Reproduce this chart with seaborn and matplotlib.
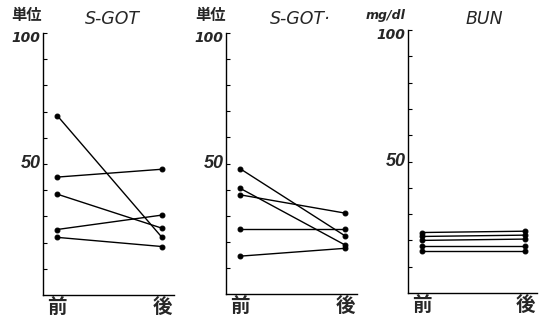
import pandas as pd
import seaborn as sns
import matplotlib.pyplot as plt

# values (before / after)
got1_pre = [68.5, 45, 38.5, 25, 22]
got1_post = [22, 48, 25.5, 30.5, 18.5]
got2_pre = [48, 40.5, 38, 25, 14.5]
got2_post = [22.3, 18.8, 31, 25, 17.5]
bun_pre = [23, 21.5, 20, 18, 16]
bun_post = [23.5, 22, 20.5, 18, 16]

x_labels = ['前', '後']
titles = ['S-GOT', 'S-GOT·', 'BUN']
units = ['単位', '単位', 'mg/dl']

sns.set_style('white')
plt.rcParams['font.family'] = ['DejaVu Sans', 'Noto Sans CJK JP']

W, H = 540, 321
fig = plt.figure(figsize=(W / 100, H / 100), dpi=100)


def long_df(pre, post):
    rows = []
    for i, (a, b) in enumerate(zip(pre, post)):
        rows.append({'subject': i, 'time': 0, 'value': a})
        rows.append({'subject': i, 'time': 1, 'value': b})
    return pd.DataFrame(rows)


# axes boxes in pixels: left, top, right, bottom
boxes = [(43, 33, 174, 295), (226, 33, 357, 294), (408, 30, 537, 293)]
data = [(got1_pre, got1_post), (got2_pre, got2_post), (bun_pre, bun_post)]
title_x = [112, 300, 484]

for k, ((l, t, r, b), (pre, post)) in enumerate(zip(boxes, data)):
    ax = fig.add_axes([l / W, 1 - b / H, (r - l) / W, (b - t) / H])
    df = long_df(pre, post)
    sns.lineplot(data=df, x='time', y='value', units='subject', estimator=None,
                 color='black', linewidth=1.0, marker='o', markersize=3.5,
                 markeredgecolor='black', legend=False, ax=ax)
    ax.set_xlim(-0.135, 1.115)
    ax.set_ylim(0, 100)
    for s in ['top', 'right']:
        ax.spines[s].set_visible(False)
    for s in ['left', 'bottom']:
        ax.spines[s].set_color('black')
        ax.spines[s].set_linewidth(1.0)
    ax.set_yticks(range(10, 101, 10))
    ax.set_yticklabels([])
    ax.tick_params(axis='y', direction='in', length=3, width=0.8, color='black', left=True)
    ax.set_xticks([0, 1])
    ax.set_xticklabels(x_labels, fontsize=14, fontweight='bold', family=['Noto Sans CJK JP'])
    ax.tick_params(axis='x', length=0, pad=2)
    ax.set_xlabel('')
    ax.set_ylabel('')
    # y labels at 50 and 100
    ax.text(-0.02, 50, '50', transform=ax.get_yaxis_transform(), ha='right', va='center',
            fontsize=13, style='italic', fontweight='bold', family=['Liberation Sans', 'DejaVu Sans'])
    ax.text(-0.02, 98, '100', transform=ax.get_yaxis_transform(), ha='right', va='center',
            fontsize=10, style='italic', fontweight='bold')
    # unit label and title
    if units[k] == 'mg/dl':
        fig.text((l - 22) / W, 1 - 16 / H, units[k], ha='center', va='center',
                 fontsize=9, style='italic', fontweight='bold')
    else:
        fig.text((l - 16) / W, 1 - 15 / H, units[k], ha='center', va='center',
                 fontsize=11, fontweight='bold', family=['Noto Sans CJK JP'])
    fig.text(title_x[k] / W, 1 - 19 / H, titles[k], ha='center', va='center',
             fontsize=12.5, style='italic')

plt.savefig('out.png', dpi=100)
